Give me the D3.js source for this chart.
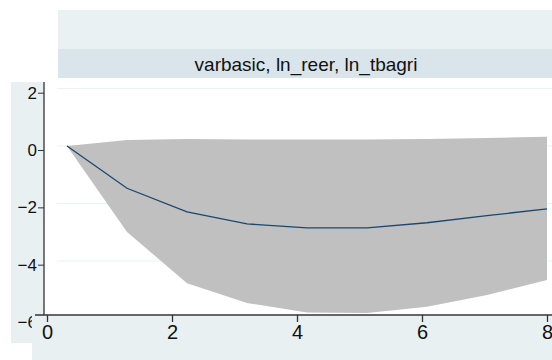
<!DOCTYPE html>
<html>
<head>
<meta charset="utf-8">
<script src="https://cdn.jsdelivr.net/npm/d3@7"></script>
<style>
  body { margin: 0; background: #fff; }
  svg { display: block; }
  text { font-family: "Liberation Sans", Arial, sans-serif; }
</style>
</head>
<body>
<svg id="chart" width="552" height="360"></svg>
<script>
// ---- data ----
const title = "varbasic, ln_reer, ln_tbagri";
const steps = [0, 1, 2, 3, 4, 5, 6, 7, 8];
const irf   = [0, -1.47, -2.29, -2.71, -2.85, -2.85, -2.67, -2.42, -2.19];
const upper = [0, 0.21, 0.24, 0.23, 0.23, 0.23, 0.24, 0.28, 0.32];
const lower = [0, -2.99, -4.77, -5.46, -5.79, -5.81, -5.59, -5.18, -4.66];
const xTicks = [0, 2, 4, 6, 8];
const yTicks = [-6, -4, -2, 0, 2];
const gridVals = [-4, -2, 0, 2];

const svg = d3.select("#chart");

// axis scales (as drawn in the reference)
const xAxisScale = d3.scaleLinear().domain([0, 8]).range([47, 547]);
const yAxisScale = d3.scaleLinear().domain([-6, 2]).range([322, 92.7]);
// plot-region scales (the reference plot region is offset from its axes)
const x = d3.scaleLinear().domain([0, 8]).range([67, 547]);
const y = d3.scaleLinear().domain([-6, 2]).range([318.5, 88.5]);

// backgrounds
svg.append("rect").attr("x", 58).attr("y", 10).attr("width", 494).attr("height", 39).attr("fill", "#e9f1f3");
svg.append("rect").attr("x", 58).attr("y", 49).attr("width", 494).attr("height", 29).attr("fill", "#d9e5eb");
svg.append("text").attr("x", 306).attr("y", 71).attr("text-anchor", "middle")
  .attr("font-size", 19).attr("fill", "#111").text(title);

svg.append("rect").attr("x", 11).attr("y", 82).attr("width", 33).attr("height", 261).attr("fill", "#e8f0f2");

// gridlines
svg.append("g").selectAll("line").data(gridVals).join("line")
  .attr("x1", 57).attr("x2", 552)
  .attr("y1", d => y(d)).attr("y2", d => y(d))
  .attr("stroke", "#eaf2f3").attr("stroke-width", 1.2);

// confidence band
const band = d3.area()
  .x((d, i) => x(steps[i]))
  .y0((d, i) => y(lower[i]))
  .y1((d, i) => y(upper[i]));
svg.append("path").datum(steps).attr("d", band).attr("fill", "#c0c0c0");

// IRF line
const line = d3.line().x((d, i) => x(steps[i])).y((d, i) => y(irf[i]));
svg.append("path").datum(steps).attr("d", line)
  .attr("fill", "none").attr("stroke", "#1a476f").attr("stroke-width", 1.3);

// y axis
const yAxis = d3.axisLeft(yAxisScale).tickValues(yTicks).tickSize(6).tickPadding(1).tickFormat(d3.format("d"));
const gy = svg.append("g").attr("transform", "translate(44,0)").call(yAxis);
gy.select(".domain").remove();
gy.selectAll("line").attr("stroke", "#333");
gy.selectAll("text").attr("font-size", 17).attr("fill", "#111")
  .attr("font-family", "Liberation Sans, Arial, sans-serif");
svg.append("line").attr("x1", 44).attr("x2", 44).attr("y1", 82).attr("y2", 315)
  .attr("stroke", "#333").attr("stroke-width", 1.3);

// bottom band (covers part of the -6 label as in the reference)
svg.append("rect").attr("x", 32).attr("y", 316).attr("width", 520).attr("height", 44).attr("fill", "#e8f0f2");

// x axis
const xAxis = d3.axisBottom(xAxisScale).tickValues(xTicks).tickSize(7).tickPadding(3).tickFormat(d3.format("d"));
const gx = svg.append("g").attr("transform", "translate(0,315)").call(xAxis);
gx.select(".domain").remove();
gx.selectAll("line").attr("stroke", "#333").attr("stroke-width", 1.3);
gx.selectAll("text").attr("font-size", 20).attr("fill", "#111")
  .attr("font-family", "Liberation Sans, Arial, sans-serif");
svg.append("line").attr("x1", 35).attr("x2", 552).attr("y1", 315).attr("y2", 315)
  .attr("stroke", "#333").attr("stroke-width", 1.5);
</script>
</body>
</html>
